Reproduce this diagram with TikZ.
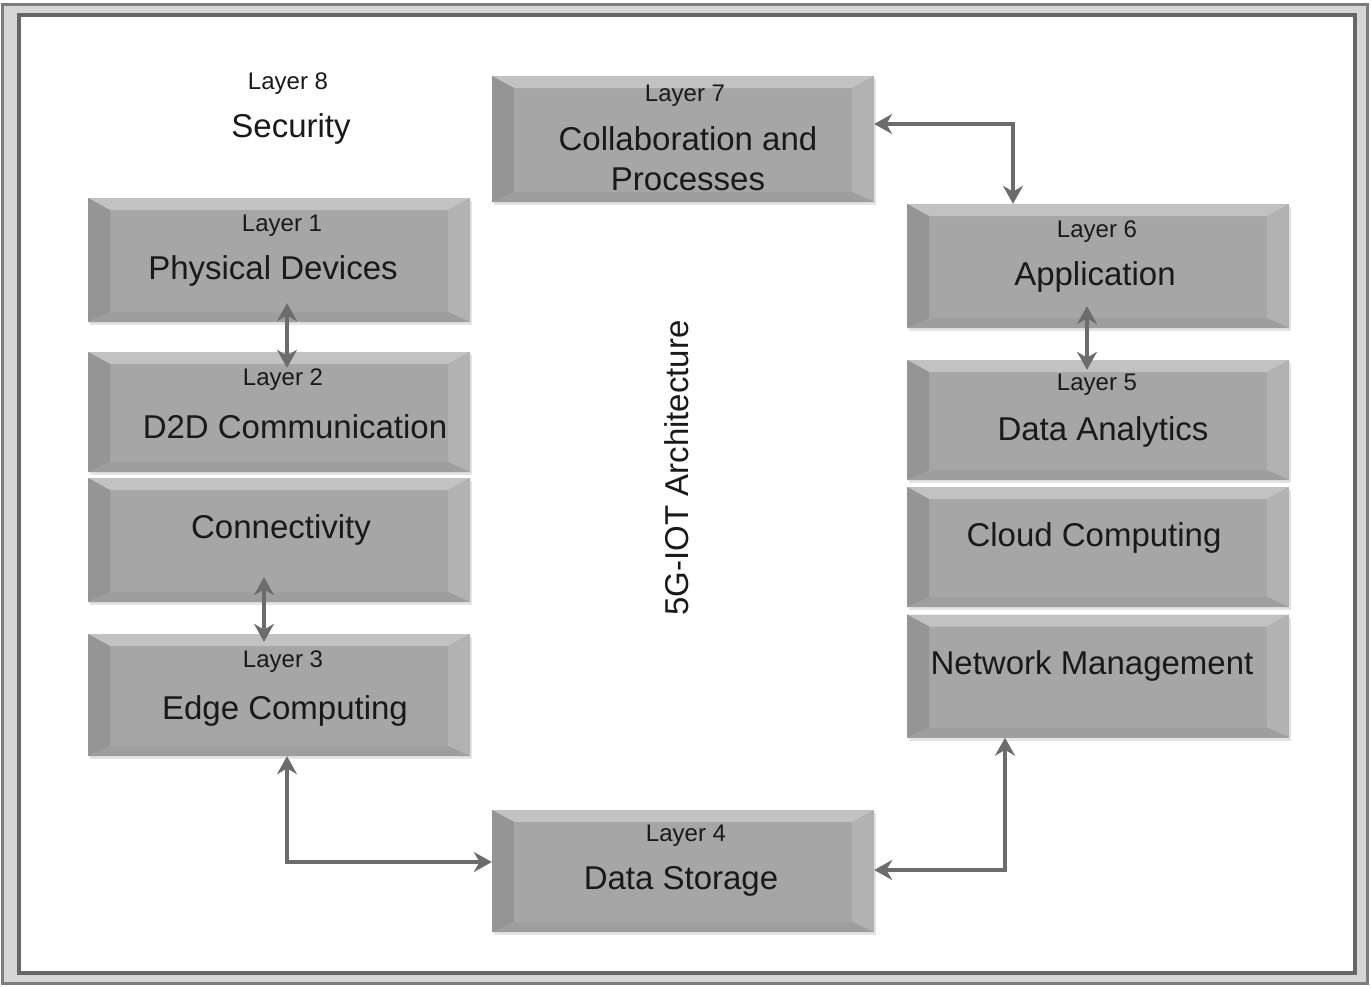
\documentclass[tikz,border=0pt]{standalone}
\usepackage{fontspec}
\setmainfont{Liberation Sans}
\usetikzlibrary{arrows.meta,shadows}
\definecolor{boxgray}{HTML}{A6A6A6}
\definecolor{bevtop}{HTML}{C2C2C2}
\definecolor{bevleft}{HTML}{959595}
\definecolor{bevright}{HTML}{B2B2B2}
\definecolor{bevbot}{HTML}{9E9E9E}
\definecolor{linkgray}{HTML}{6C6C6C}
\definecolor{framegray}{HTML}{D6D6D6}
\definecolor{framedark}{HTML}{666666}

\begin{document}
\begin{tikzpicture}[x=1pt,y=-1pt,
  layerbox/.style={minimum width=382pt, minimum height=122pt, inner sep=0pt,
    fill=boxgray, drop shadow={shadow xshift=2pt, shadow yshift=-3pt, fill=gray!35, opacity=.6},
    path picture={
      \fill[bevtop] (path picture bounding box.north west) -- (path picture bounding box.north east)
        -- ([shift={(-22pt,-12pt)}]path picture bounding box.north east)
        -- ([shift={(22pt,-12pt)}]path picture bounding box.north west) -- cycle;
      \fill[bevleft] (path picture bounding box.north west) -- (path picture bounding box.south west)
        -- ([shift={(22pt,10pt)}]path picture bounding box.south west)
        -- ([shift={(22pt,-12pt)}]path picture bounding box.north west) -- cycle;
      \fill[bevright] (path picture bounding box.north east) -- (path picture bounding box.south east)
        -- ([shift={(-22pt,10pt)}]path picture bounding box.south east)
        -- ([shift={(-22pt,-12pt)}]path picture bounding box.north east) -- cycle;
      \fill[bevbot] (path picture bounding box.south west) -- (path picture bounding box.south east)
        -- ([shift={(-22pt,10pt)}]path picture bounding box.south east)
        -- ([shift={(22pt,10pt)}]path picture bounding box.south west) -- cycle;
    }},
  lbl/.style={font=\fontsize{24}{28}\selectfont, text=black!90, inner sep=0pt},
  ttl/.style={font=\fontsize{33}{40}\selectfont, text=black!90, inner sep=0pt, align=center},
  link/.style={draw=linkgray, line width=4.5pt,
    {Stealth[length=18pt,width=20pt]}-{Stealth[length=18pt,width=20pt]}}]

  \useasboundingbox (0,0) rectangle (1371,988);
  \fill[framegray, even odd rule] (1,3) rectangle (1368,984) (19,15) rectangle (1355,973);
  \draw[framedark!85, line width=3pt] (2,4) rectangle (1367,983);
  \draw[framedark, line width=4pt] (19,15) rectangle (1355,973);

  \node[layerbox, minimum height=124pt] (phys) at (279,260) {};
  \node[layerbox, minimum height=120pt] (dtwod) at (279,412) {};
  \node[layerbox, minimum height=124pt] (conn) at (279,540) {};
  \node[layerbox] (edge) at (279,695) {};
  \node[layerbox, minimum height=126pt] (collab) at (683,139) {};
  \node[layerbox, minimum height=124pt] (app) at (1098,266) {};
  \node[layerbox, minimum height=120pt] (analytics) at (1098,420) {};
  \node[layerbox, minimum height=120pt] (cloud) at (1098,547) {};
  \node[layerbox, minimum height=123pt] (netman) at (1098,676) {};
  \node[layerbox] (storage) at (683,871) {};

  \node[lbl] (sec-l) at (288,84) {Layer 8};
  \node[ttl] (sec-t) at (291,129) {Security};
  \node[lbl] (phys-l) at (282,226) {Layer 1};
  \node[ttl] (phys-t) at (273,271) {Physical Devices};
  \node[lbl] (dtwod-l) at (283,380) {Layer 2};
  \node[ttl] (dtwod-t) at (295,427) {D2D Communication};
  \node[ttl] (conn-t) at (281,530) {Connectivity};
  \node[lbl] (edge-l) at (283,662) {Layer 3};
  \node[ttl] (edge-t) at (285,711) {Edge Computing};
  \node[lbl] (collab-l) at (685,96) {Layer 7};
  \node[ttl] (collab-t) at (688,159) {Collaboration and\\Processes};
  \node[lbl] (app-l) at (1097,232) {Layer 6};
  \node[ttl] (app-t) at (1095,277) {Application};
  \node[lbl] (analytics-l) at (1097,385) {Layer 5};
  \node[ttl] (analytics-t) at (1103,432) {Data Analytics};
  \node[ttl] (cloud-t) at (1094,538) {Cloud Computing};
  \node[ttl] (netman-t) at (1092,666) {Network Management};
  \node[lbl] (storage-l) at (686,836) {Layer 4};
  \node[ttl] (storage-t) at (681,881) {Data Storage};
  \node[ttl, rotate=90] (arch) at (677,468) {5G-IOT Architecture};

  \draw[link] ([xshift=8pt,yshift=19pt]phys.south) -- ([xshift=8pt,yshift=-16pt]dtwod.north);
  \draw[link] ([xshift=-15pt,yshift=25pt]conn.south) -- ([xshift=-15pt,yshift=-8pt]edge.north);
  \draw[link] ([xshift=8pt]edge.south) |- ([yshift=9pt]storage.west);
  \draw[link] ([yshift=1pt]storage.east) -| ([xshift=-93pt]netman.south);
  \draw[link] ([yshift=15pt]collab.east) -| ([xshift=-85pt]app.north);
  \draw[link] ([xshift=-11pt,yshift=22pt]app.south) -- ([xshift=-11pt,yshift=-10pt]analytics.north);
\end{tikzpicture}
\end{document}
